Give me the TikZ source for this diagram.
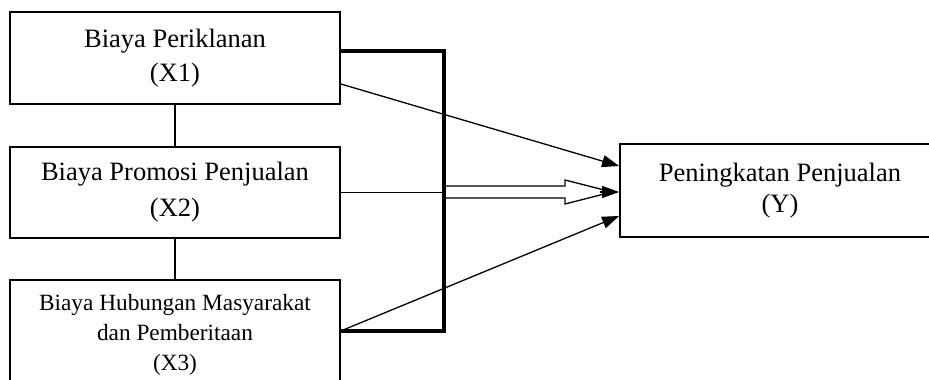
\documentclass[tikz,border=0pt]{standalone}
\usepackage{fontspec}
\setmainfont{Liberation Serif}
\usetikzlibrary{arrows.meta,calc}
\begin{document}
\begin{tikzpicture}[x=1pt,y=-1pt,
  box/.style={draw,line width=1.4pt,minimum width=330pt,align=center,inner sep=0pt},
  conn/.style={line width=1.3pt},
  arr/.style={line width=1.3pt,-{Triangle[length=17pt,width=12pt]}},
  bracket/.style={line width=3.5pt,line join=miter}]
\useasboundingbox (0,0) rectangle (929,380);
\clip (0,0) rectangle (929,380);
\node[box,line width=1.8pt,minimum height=92pt,font=\fontsize{26.5}{34}\selectfont] (b1) at (175,58) {Biaya Periklanan\\(X1)};
\node[box,minimum height=91pt,font=\fontsize{26.5}{36}\selectfont] (b2) at (175,192.5) {Biaya Promosi Penjualan\\(X2)};
\node[box,minimum height=110pt,font=\fontsize{23.3}{30}\selectfont] (b3) at (175,335) {Biaya Hubungan Masyarakat\\dan Pemberitaan\\(X3)};
\node[box,line width=1.8pt,minimum width=320pt,minimum height=93pt,font=\fontsize{26.5}{31}\selectfont] (y) at (780,190.5) {Peningkatan Penjualan\\(Y)};
% vertical links
\draw[conn] (b1.south) -- (b2.north);
\draw[conn] (b2.south) -- (b3.north);
% bracket
\coordinate (br1) at (444,51);
\coordinate (br3) at (444,331);
\coordinate (br2) at (444,192.5);
\draw[bracket] ([yshift=7pt]b1.east) -- (br1) -- (br3) -- ([yshift=4pt]b3.east);
\draw[conn] (b2.east) -- (br2);
% arrows
\draw[arr] ([yshift=-26pt]b1.east) -- ([yshift=24.5pt]y.west);
\draw[arr] ([yshift=4pt]b3.east) -- ([yshift=-25.5pt]y.west);
% double arrow
\coordinate (d0) at (446,192);
\draw[line width=1.3pt,line join=miter] ($(d0)+(0,-6)$) -- (565,186) -- (565,180) -- (612,192) -- (565,204) -- (565,198) -- ($(d0)+(0,6)$);
\draw[arr] (600,192) -- ([yshift=-1.5pt]y.west);
\end{tikzpicture}
\end{document}
